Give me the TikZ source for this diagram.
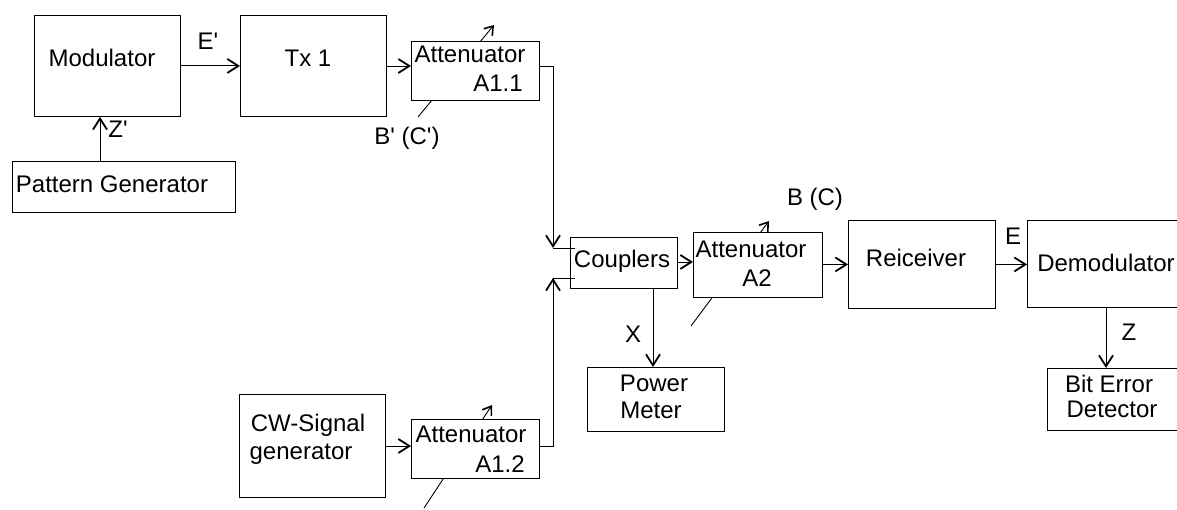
\documentclass[tikz,border=0pt]{standalone}
\usepackage{fontspec}
\setmainfont{Liberation Sans}
\usetikzlibrary{arrows.meta}
\begin{document}
\begin{tikzpicture}[x=1pt,y=-1pt,
  box/.style={draw, line width=0.9pt, fill=white, inner sep=0pt, anchor=north west},
  lbl/.style={anchor=base, inner sep=0pt, font=\fontsize{24}{28}\selectfont},
  arr/.style={-{Straight Barb[length=11pt,width=14pt,line width=1.8pt]}, line width=0.9pt},
  varr/.style={-{Straight Barb[length=8pt,width=11pt,line width=1.6pt]}, line width=0.9pt},
  ln/.style={line width=0.9pt}]
\useasboundingbox (0,0) rectangle (1177,510);
\clip (0,0) rectangle (1177,510);
% variable attenuator diagonals (drawn below the boxes)
\coordinate (d1a) at (418,117); \coordinate (d1b) at (494,25);
\coordinate (d2a) at (691,326); \coordinate (d2b) at (769,221);
\coordinate (d3a) at (424,508); \coordinate (d3b) at (492,405);
\draw[varr] (d1a) -- (d1b);
\draw[varr] (d2a) -- (d2b);
\draw[varr] (d3a) -- (d3b);
% boxes
\node[box, minimum width=146, minimum height=101] (mod) at (34,15) {};
\node[box, minimum width=146, minimum height=101] (tx) at (240,15) {};
\node[box, minimum width=223, minimum height=51] (pg) at (12,161) {};
\node[box, minimum width=128, minimum height=59] (a11) at (411,41) {};
\node[box, minimum width=107, minimum height=51] (cp) at (570,237) {};
\node[box, minimum width=129, minimum height=65] (a2) at (693,232) {};
\node[box, minimum width=147, minimum height=88] (rx) at (848,220) {};
\node[box, minimum width=170, minimum height=87] (dm) at (1027,220) {};
\node[box, minimum width=150, minimum height=62] (bed) at (1047,368) {};
\node[box, minimum width=137, minimum height=64] (pm) at (587,367) {};
\node[box, minimum width=146, minimum height=103] (cw) at (239,394) {};
\node[box, minimum width=128, minimum height=59] (a12) at (411,419) {};
% texts
\node[lbl] (tmod) at (102,67) {Modulator};
\node[lbl] (ttx) at (308,67) {Tx 1};
\node[lbl] (tpg) at (112,193) {Pattern Generator};
\node[lbl] (ta11) at (470,63) {Attenuator};
\node[lbl] (ta11b) at (498,92) {A1.1};
\node[lbl] (tcp) at (622,268) {Couplers};
\node[lbl] (ta2) at (751,258) {Attenuator};
\node[lbl] (ta2b) at (757,287) {A2};
\node[lbl] (trx) at (916,267) {Reiceiver};
\node[lbl] (tdm) at (1106,272) {Demodulator};
\node[lbl] (tbed) at (1109,392) {Bit Error};
\node[lbl] (tbed2) at (1112,417) {Detector};
\node[lbl] (tpm) at (654,391) {Power};
\node[lbl] (tpm2) at (651,418) {Meter};
\node[lbl] (tcw) at (308,431) {CW-Signal};
\node[lbl] (tcw2) at (301,459) {generator};
\node[lbl] (ta12) at (471,442) {Attenuator};
\node[lbl] (ta12b) at (500,472) {A1.2};
% signal labels
\node[lbl] (le1) at (208,50) {E\textquotesingle};
\node[lbl] (lz1) at (118,138) {Z\textquotesingle};
\node[lbl] (lb1) at (407,145) {B\textquotesingle{} (C\textquotesingle)};
\node[lbl] (lb) at (815,206) {B (C)};
\node[lbl] (lx) at (633,342) {X};
\node[lbl] (le) at (1013,245) {E};
\node[lbl] (lz) at (1129,340) {Z};
% connectors
\draw[arr] (mod.east) -- (tx.west);
\coordinate (zst) at (100,161);
\draw[arr] (zst) -- (zst |- mod.south);
\coordinate (txo) at (386,66);
\draw[arr] (txo) -- (txo -| a11.west);
\coordinate (cin1) at (553,248);
\coordinate (cin2) at (553,278);
\draw[arr] (a11.east |- txo) -| (cin1);
\draw[ln] (cin1) -- ++(22,0);
\coordinate (cwo) at (385,446);
\draw[arr] (cwo) -- (cwo -| a12.west);
\draw[arr] (a12.east |- cwo) -| (cin2);
\draw[ln] (cin2) -- ++(22,0);
\coordinate (cpo) at (677,262);
\draw[arr] (cpo) -- (cpo -| a2.west);
\draw[arr] (a2.east |- rx.west) -- (rx.west);
\draw[arr] (rx.east) -- (rx.east -| dm.west);
\coordinate (dmo) at (1106,307);
\draw[arr] (dmo) -- (dmo |- bed.north);
\coordinate (cpd) at (653,288);
\draw[arr] (cpd) -- (cpd |- pm.north);
\end{tikzpicture}
\end{document}
